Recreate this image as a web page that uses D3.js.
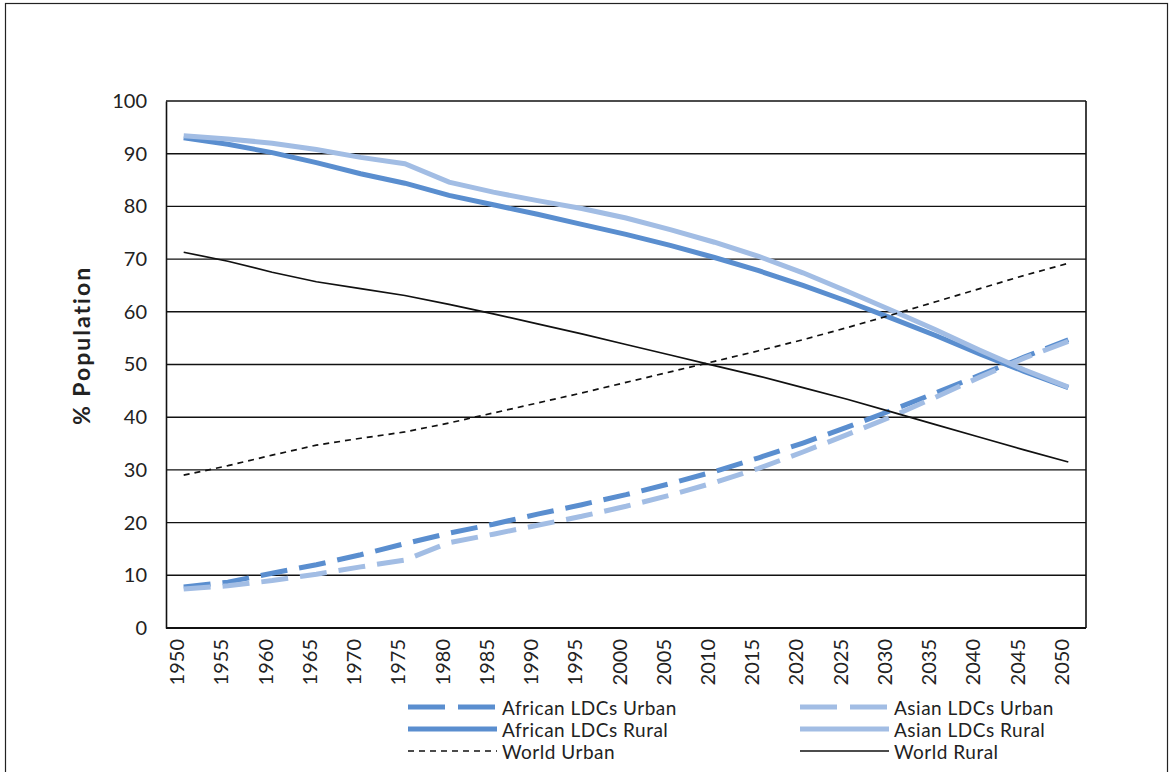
<!DOCTYPE html>
<html>
<head>
<meta charset="utf-8">
<script src="https://cdn.jsdelivr.net/npm/d3@7"></script>
<style>
  body { margin: 0; background: #fff; }
  text { font-family: Lato, "Open Sans", sans-serif; fill: #222; }
</style>
</head>
<body>
<svg id="chart" width="1172" height="772"></svg>
<script>
// years on the category axis
var years = [1950, 1955, 1960, 1965, 1970, 1975, 1980, 1985, 1990, 1995, 2000,
             2005, 2010, 2015, 2020, 2025, 2030, 2035, 2040, 2045, 2050];

var africanUrban = [7.8, 8.7, 10.4, 12.0, 13.9, 16.0, 18.0, 19.7, 21.6, 23.4, 25.3,
                    27.4, 29.7, 32.3, 35.1, 38.1, 41.3, 44.6, 48.0, 51.4, 54.7];
var africanRural = [93.0, 91.8, 90.2, 88.3, 86.2, 84.4, 82.1, 80.3, 78.5, 76.6, 74.7,
                    72.6, 70.3, 67.8, 65.0, 62.0, 58.8, 55.5, 52.0, 48.7, 45.6];
var asianUrban = [7.4, 8.0, 9.0, 10.2, 11.6, 12.9, 16.2, 17.8, 19.5, 21.2, 23.1,
                  25.2, 27.6, 30.3, 33.4, 36.7, 40.1, 43.8, 47.6, 51.2, 54.4];
var asianRural = [93.4, 92.8, 92.0, 90.8, 89.3, 88.1, 84.6, 82.7, 81.1, 79.6, 77.8,
                  75.6, 73.2, 70.5, 67.4, 63.9, 60.3, 56.6, 52.7, 49.0, 45.7];
var worldUrban = [29.0, 30.8, 32.8, 34.7, 36.0, 37.2, 38.9, 40.8, 42.7, 44.6, 46.6,
                  48.6, 50.6, 52.6, 54.7, 57.0, 59.4, 61.9, 64.4, 66.9, 69.2];
var worldRural = [71.3, 69.6, 67.5, 65.7, 64.4, 63.1, 61.4, 59.6, 57.7, 55.8, 53.8,
                  51.8, 49.8, 47.8, 45.6, 43.4, 41.0, 38.6, 36.2, 33.8, 31.5];

var yTicks = [0, 10, 20, 30, 40, 50, 60, 70, 80, 90, 100];

var blue = "#5a8ecf", lightBlue = "#a2bde4";

var series = [
  {name: "African LDCs Urban", values: africanUrban, color: blue, width: 5, dash: "27,12"},
  {name: "Asian LDCs Urban", values: asianUrban, color: lightBlue, width: 5, dash: "27,12"},
  {name: "African LDCs Rural", values: africanRural, color: blue, width: 5, dash: null},
  {name: "Asian LDCs Rural", values: asianRural, color: lightBlue, width: 5, dash: null},
  {name: "World Urban", values: worldUrban, color: "#111", width: 1.7, dash: "6,5"},
  {name: "World Rural", values: worldRural, color: "#111", width: 1.7, dash: null}
];

var svg = d3.select("#chart");

// outer chart-area frame
svg.append("rect")
  .attr("x", 5.5).attr("y", 3.5)
  .attr("width", 1162).attr("height", 800)
  .attr("fill", "none").attr("stroke", "#222").attr("stroke-width", 1.2);

var plotLeft = 166, plotRight = 1086, plotTop = 101, plotBottom = 628;

var x = d3.scalePoint().domain(years).range([plotLeft, plotRight]).padding(0.4);
var y = d3.scaleLinear().domain([0, 100]).range([plotBottom, plotTop]);

// gridlines
svg.append("g")
  .selectAll("line")
  .data(yTicks)
  .enter().append("line")
  .attr("x1", plotLeft).attr("x2", plotRight)
  .attr("y1", function(d){ return y(d); })
  .attr("y2", function(d){ return y(d); })
  .attr("stroke", "#111").attr("stroke-width", 1.4);

// y axis
var yAxis = svg.append("g")
  .attr("transform", "translate(" + plotLeft + ",0)")
  .call(d3.axisLeft(y).tickValues(yTicks).tickSize(0).tickPadding(19));
yAxis.select(".domain").attr("stroke", "#111").attr("stroke-width", 1.6);
yAxis.selectAll("text").style("font-size", "20px").attr("fill", "#222");

// right border
svg.append("line")
  .attr("x1", plotRight).attr("x2", plotRight).attr("y1", plotTop).attr("y2", plotBottom)
  .attr("stroke", "#111").attr("stroke-width", 1.6);

// x axis
var xAxis = svg.append("g")
  .attr("transform", "translate(0," + plotBottom + ")")
  .call(d3.axisBottom(x).tickSize(0).tickPadding(0));
xAxis.select(".domain").attr("stroke", "#111").attr("stroke-width", 2)
  .attr("d", "M" + plotLeft + ",0H" + plotRight);
xAxis.selectAll("text")
  .style("font-size", "20px")
  .attr("fill", "#222")
  .attr("text-anchor", "end")
  .attr("transform", "rotate(-90)")
  .attr("x", -11)
  .attr("y", -7)
  .attr("dy", "0.35em");

// y axis title
svg.append("text")
  .attr("transform", "translate(82," + ((plotTop + plotBottom) / 2 - 19) + ") rotate(-90)")
  .attr("text-anchor", "middle")
  .attr("dy", "0.35em")
  .style("font-size", "23px")
  .style("font-weight", "bold")
  .style("letter-spacing", "2px")
  .attr("fill", "#111")
  .text("% Population");

// lines
var line = d3.line()
  .x(function(d, i){ return x(years[i]); })
  .y(function(d){ return y(d); });

svg.append("g")
  .selectAll("path")
  .data(series)
  .enter().append("path")
  .attr("d", function(d){ return line(d.values); })
  .attr("fill", "none")
  .attr("stroke", function(d){ return d.color; })
  .attr("stroke-width", function(d){ return d.width; })
  .attr("stroke-dasharray", function(d){ return d.dash; });

// legend
var legendPos = [
  {x: 408, y: 709}, {x: 800, y: 709},
  {x: 408, y: 731}, {x: 800, y: 731},
  {x: 408, y: 753}, {x: 800, y: 753}
];

var legend = svg.append("g")
  .selectAll("g")
  .data(series)
  .enter().append("g")
  .attr("transform", function(d, i){ return "translate(" + legendPos[i].x + "," + legendPos[i].y + ")"; });

legend.append("line")
  .attr("x1", 0).attr("x2", 89).attr("y1", -2).attr("y2", -2)
  .attr("stroke", function(d){ return d.color; })
  .attr("stroke-width", function(d){ return d.width; })
  .attr("stroke-dasharray", function(d){
    if (d.dash && d.width > 2) return "37,13";
    return d.dash;
  });

legend.append("text")
  .attr("x", 94)
  .attr("dy", "0.3em")
  .style("font-size", "19px")
  .style("letter-spacing", "0.5px")
  .text(function(d){ return d.name; });
</script>
</body>
</html>
